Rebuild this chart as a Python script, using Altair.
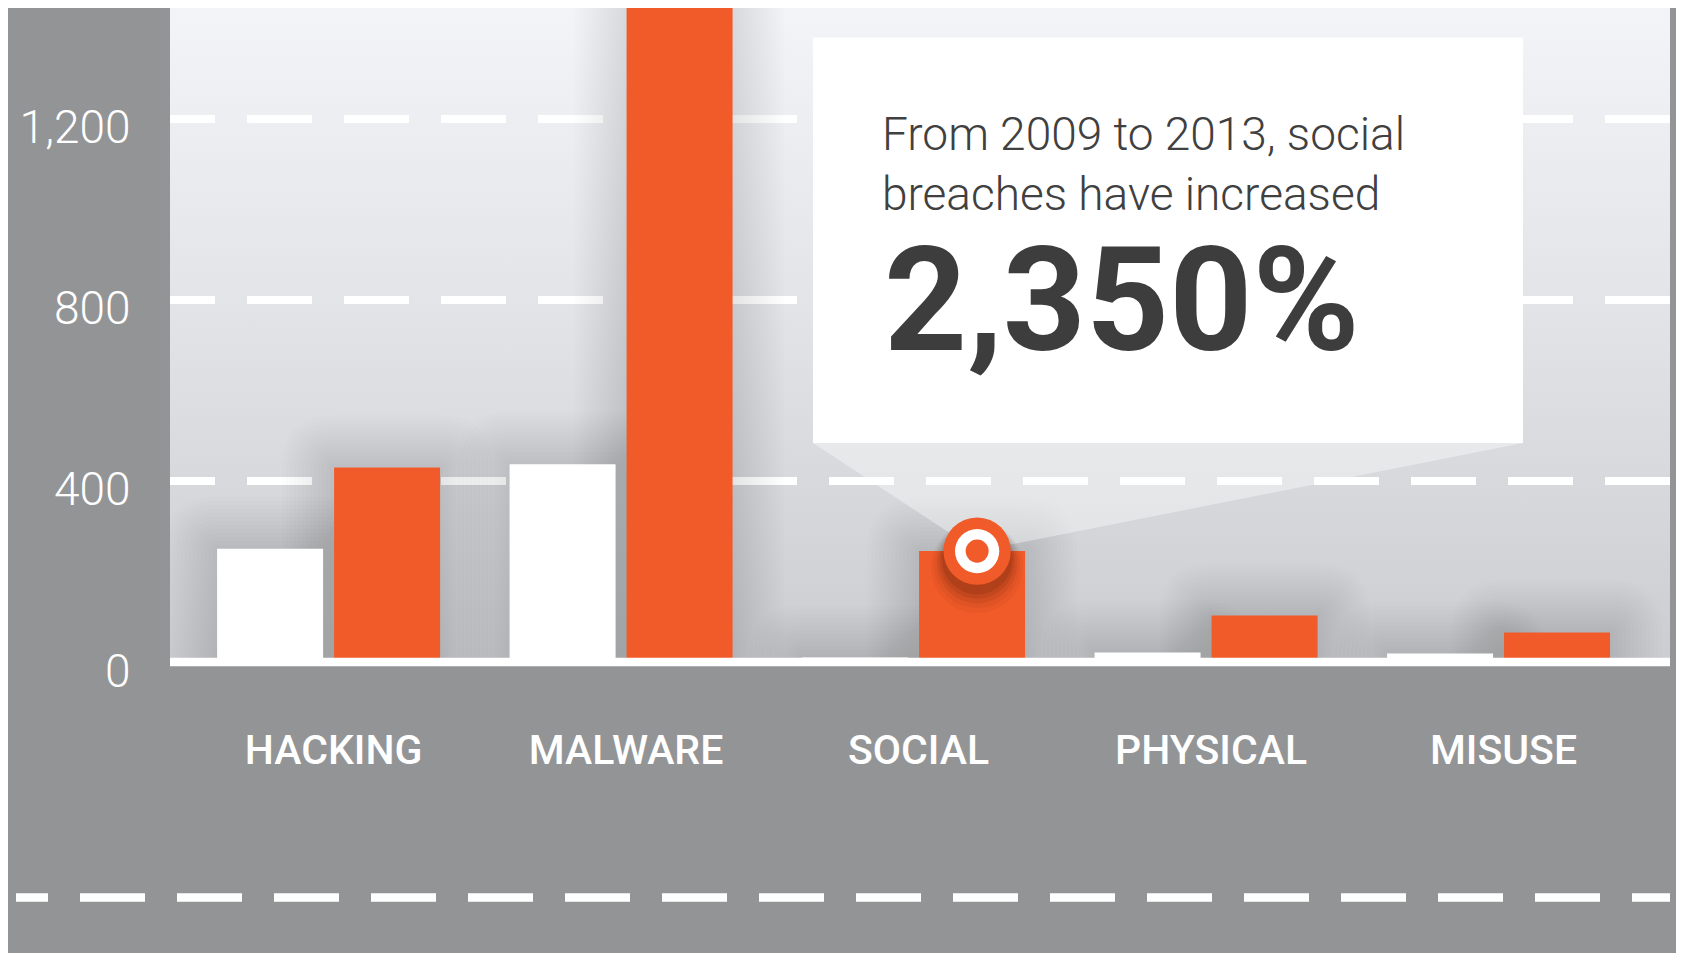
import altair as alt
import pandas as pd

# ---- data -------------------------------------------------------------
categories = ["HACKING", "MALWARE", "SOCIAL", "PHYSICAL", "MISUSE"]
years = ["2009", "2013"]
breaches_2009 = [250, 437, 10, 21, 19]
breaches_2013 = [430, 1600, 245, 103, 65]
y_ticks = [0, 400, 800, 1200]
grid_ticks = [400, 800, 1200]
highlight_category = "SOCIAL"
highlight_year = "2013"
callout_line1 = "From 2009 to 2013, social"
callout_line2 = "breaches have increased"
callout_big = "2,350%"

rows = []
for c, a, b in zip(categories, breaches_2009, breaches_2013):
    rows.append({"category": c, "year": "2009", "value": a})
    rows.append({"category": c, "year": "2013", "value": b})
df = pd.DataFrame(rows)

W, H = 1500, 654
ORANGE = "#f15a29"
GRAY = "#939496"
FONT = "Roboto"

base = alt.Chart(df)
one = alt.Chart(pd.DataFrame([{"k": 0}]))

yscale = alt.Scale(domain=[0, 1445], nice=False, zero=True)
xscale = alt.Scale(domain=categories, paddingInner=0.2376, paddingOuter=0.183, align=0.44)
xoff_scale = alt.Scale(domain=years, paddingInner=0.094, paddingOuter=0)

x_axis = alt.Axis(title=None, labelAngle=0, domain=False, ticks=False, tickSize=0,
                  labelFontSize=41, labelFont=FONT, labelFontWeight=500, labelLimit=0,
                  labelColor="white", labelPadding=101, labelBaseline="alphabetic",
                  labelOffset=5)
y_axis = alt.Axis(title=None, values=y_ticks, labelExpr="format(datum.value, ',')",
                  grid=False, domain=False, labelLimit=0,
                  ticks=False, tickSize=0, labelFontSize=46, labelFont=FONT,
                  labelFontWeight=300, labelColor="white", labelPadding=40,
                  labelOffset=10, labelBaseline="middle")


def X(**kw):
    return alt.X("category:N", sort=categories, scale=xscale, axis=x_axis, **kw)


def Y(field="value"):
    return alt.Y(f"{field}:Q", scale=yscale, axis=y_axis)


XO = alt.XOffset("year:N", sort=years, scale=xoff_scale)

# background panel with gradient
bg = one.mark_rect(
    fill=alt.Gradient(
        gradient="linear",
        stops=[alt.GradientStop(color="#f2f4f7", offset=0),
               alt.GradientStop(color="#e2e4e7", offset=0.45),
               alt.GradientStop(color="#cbcdd0", offset=1)],
        x1=0, x2=0, y1=0, y2=1)
).encode(x=alt.value(0), x2=alt.value(W), y=alt.value(0), y2=alt.value(H))

# dashed gridlines
grid = alt.Chart(pd.DataFrame({"v": grid_ticks})).mark_rule(
    color="white", strokeWidth=8, strokeDash=[65, 32]
).encode(y=Y("v"))


# soft shadows behind bars (rounded halo shapes anchored at each bar's top centre)
def halo(k):
    w = 53 + k
    t = -k
    r = k
    return (f"M{-w},{t + r} Q{-w},{t} {-w + r},{t} L{w - r},{t} Q{w},{t} {w},{t + r} "
            f"L{w},900 L{-w},900 Z")


shadows = []
for k in range(4, 56, 4):
    shadows.append(
        base.mark_point(shape=halo(k), size=4, filled=True, fill="#30343a",
                        opacity=0.011, strokeWidth=0, clip=True)
        .encode(x=X(), xOffset=XO, y=Y())
    )

# callout box
box = one.mark_rect(color="white").encode(
    x=alt.value(643), x2=alt.value(1353), y=alt.value(29.6), y2=alt.value(435)
)

hl = base.transform_filter(
    (alt.datum.category == highlight_category) & (alt.datum.year == highlight_year)
)
hx = X(bandPosition=0.785)
hy = Y()

pointer = hl.mark_point(
    shape="M0,0 L-164,-108 L546,-108 Z", size=4, filled=True,
    fill="white", opacity=0.38, strokeWidth=0
).encode(x=hx, y=hy)

bars = base.mark_bar(clip=True).encode(
    x=X(), xOffset=XO, y=Y(),
    color=alt.Color("year:N", scale=alt.Scale(domain=years, range=["#ffffff", ORANGE]),
                    legend=None),
)

baseline = one.transform_calculate(z="0").mark_rule(color="white", strokeWidth=8.5).encode(
    y=Y("z"))

t1 = one.mark_text(text=callout_line1, align="left", baseline="alphabetic", font=FONT,
                   fontSize=46, fontWeight=300, color="#404040").encode(
    x=alt.value(712), y=alt.value(141.6))
t2 = one.mark_text(text=callout_line2, align="left", baseline="alphabetic", font=FONT,
                   fontSize=46, fontWeight=300, color="#404040").encode(
    x=alt.value(712), y=alt.value(202))
t3 = one.mark_text(text=callout_big, align="left", baseline="alphabetic", font=FONT,
                   fontSize=145, fontWeight="bold", color="#3d3d3d").encode(
    x=alt.value(714), y=alt.value(342))

mshadows = []
for s, op, dy in ((8400, 0.04, 16), (7400, 0.05, 14), (6500, 0.07, 12),
                  (5700, 0.09, 10), (5000, 0.12, 8)):
    mshadows.append(hl.mark_circle(color="#2a0d00", opacity=op, size=s, yOffset=dy)
                    .encode(x=hx, y=hy))
m1 = hl.mark_circle(color=ORANGE, opacity=1, size=4536).encode(x=hx, y=hy)
m2 = hl.mark_circle(color="white", opacity=1, size=1963).encode(x=hx, y=hy)
m3 = hl.mark_circle(color=ORANGE, opacity=1, size=531).encode(x=hx, y=hy)

bottom_line = one.mark_rule(color="white", strokeWidth=8.3, strokeDash=[65, 32],
                            strokeDashOffset=33).encode(
    x=alt.value(-154), x2=alt.value(W), y=alt.value(889.5))

chart = alt.layer(
    bg, grid, *shadows, box, pointer, bars, baseline, t1, t2, t3,
    *mshadows, m1, m2, m3, bottom_line
).properties(
    width=W, height=H,
    autosize=alt.AutoSizeParams(type="none"),
    padding={"left": 162, "top": 0, "right": 6, "bottom": 291},
).configure(background=GRAY).configure_view(stroke=None, strokeWidth=0)

chart.save("out.html", embed_options={"renderer": "svg", "actions": False})
